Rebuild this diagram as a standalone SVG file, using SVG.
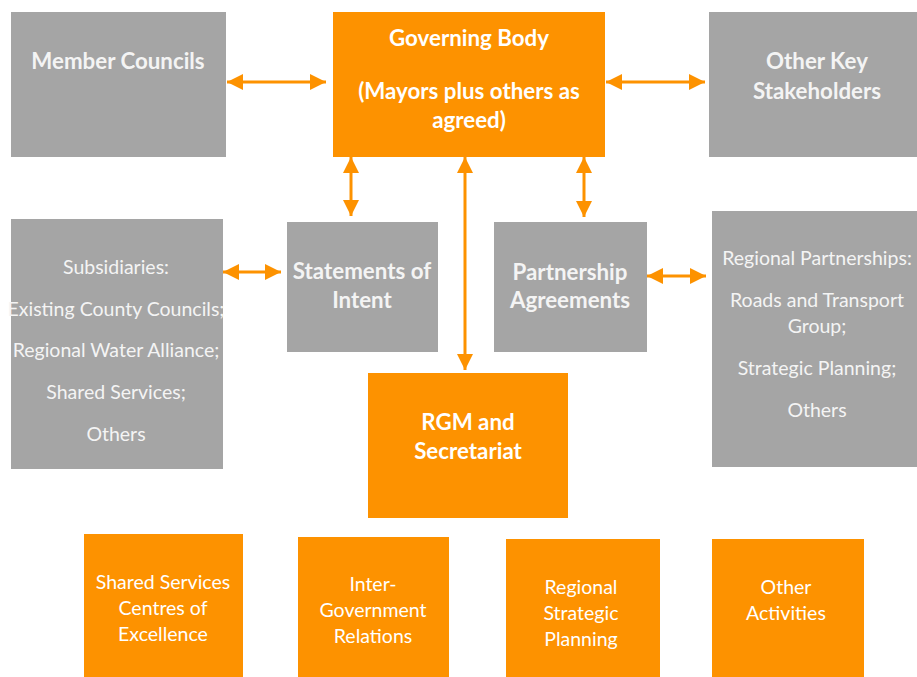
<svg xmlns="http://www.w3.org/2000/svg" width="917" height="677" viewBox="0 0 917 677">
<defs>
<style>
.g{fill:#A5A5A5}
.o{fill:#FD9200}
text{font-family:Lato,"Open Sans","Liberation Sans",sans-serif;text-anchor:middle;fill:#F4F4F4}
.b{font-weight:bold;font-size:22.3px}
.r{font-size:19.5px}
.w{fill:#FFFFFF}
.c{stroke:#FD9200;stroke-width:3;fill:none;marker-start:url(#ah);marker-end:url(#ah)}
</style>
<marker id="ah" markerUnits="userSpaceOnUse" markerWidth="16" markerHeight="16" refX="16" refY="8" orient="auto-start-reverse" viewBox="0 0 16 16">
<path d="M0,0 L16,8 L0,16 Z" fill="#FD9200"/>
</marker>
</defs>
<rect width="917" height="677" fill="#FFFFFF"/>

<g id="member-councils">
<rect class="g" x="11" y="12" width="215" height="145"/>
<text class="b" x="118" y="69">Member Councils</text>
</g>

<g id="governing-body">
<rect class="o" x="333" y="12" width="272" height="145"/>
<text class="b w" x="469" y="46">Governing Body</text>
<text class="b w" x="469" y="99">(Mayors plus others as</text>
<text class="b w" x="469" y="128">agreed)</text>
</g>

<g id="other-key-stakeholders">
<rect class="g" x="709" y="12" width="208" height="145"/>
<text class="b" x="817" y="69">Other Key</text>
<text class="b" x="817" y="99">Stakeholders</text>
</g>

<g id="subsidiaries">
<rect class="g" x="11" y="219" width="212" height="250"/>
<text class="r" x="116" y="274">Subsidiaries:</text>
<text class="r" x="116" y="316">Existing County Councils;</text>
<text class="r" x="116" y="357">Regional Water Alliance;</text>
<text class="r" x="116" y="399">Shared Services;</text>
<text class="r" x="116" y="441">Others</text>
</g>

<g id="statements-of-intent">
<rect class="g" x="287" y="222" width="151" height="130"/>
<text class="b" x="362" y="279">Statements of</text>
<text class="b" x="362" y="308">Intent</text>
</g>

<g id="partnership-agreements">
<rect class="g" x="494" y="222" width="153" height="130"/>
<text class="b" x="570" y="280">Partnership</text>
<text class="b" x="570" y="308">Agreements</text>
</g>

<g id="regional-partnerships">
<rect class="g" x="712" y="211" width="205" height="256"/>
<text class="r" x="817" y="265">Regional Partnerships:</text>
<text class="r" x="817" y="307">Roads and Transport</text>
<text class="r" x="817" y="333">Group;</text>
<text class="r" x="817" y="375">Strategic Planning;</text>
<text class="r" x="817" y="417">Others</text>
</g>

<g id="rgm-secretariat">
<rect class="o" x="368" y="373" width="200" height="145"/>
<text class="b w" x="468" y="430">RGM and</text>
<text class="b w" x="468" y="459">Secretariat</text>
</g>

<g id="shared-services">
<rect class="o" x="84" y="534" width="159" height="143"/>
<text class="r w" x="163" y="589">Shared Services</text>
<text class="r w" x="163" y="615">Centres of</text>
<text class="r w" x="163" y="641">Excellence</text>
</g>

<g id="inter-government">
<rect class="o" x="298" y="537" width="151" height="140"/>
<text class="r w" x="373" y="591">Inter-</text>
<text class="r w" x="373" y="617">Government</text>
<text class="r w" x="373" y="643">Relations</text>
</g>

<g id="regional-strategic-planning">
<rect class="o" x="506" y="539" width="154" height="138"/>
<text class="r w" x="581" y="594">Regional</text>
<text class="r w" x="581" y="620">Strategic</text>
<text class="r w" x="581" y="646">Planning</text>
</g>

<g id="other-activities">
<rect class="o" x="712" y="539" width="152" height="138"/>
<text class="r w" x="786" y="594">Other</text>
<text class="r w" x="786" y="620">Activities</text>
</g>

<g id="connectors">
<line class="c" x1="227" y1="82" x2="326" y2="82"/>
<line class="c" x1="606" y1="82" x2="705" y2="82"/>
<line class="c" x1="351" y1="157" x2="351" y2="216"/>
<line class="c" x1="465" y1="157" x2="465" y2="370"/>
<line class="c" x1="584" y1="157" x2="584" y2="217"/>
<line class="c" x1="223" y1="272" x2="281" y2="272"/>
<line class="c" x1="647" y1="276" x2="706" y2="276"/>
</g>
</svg>
